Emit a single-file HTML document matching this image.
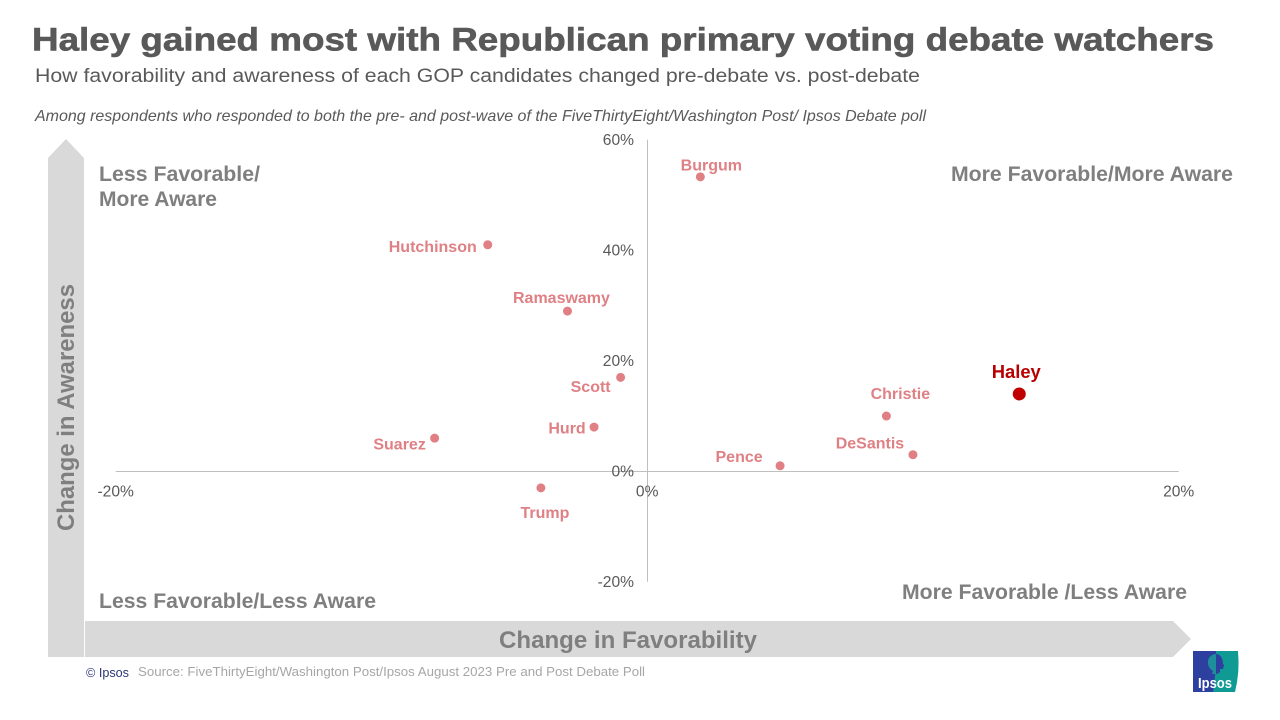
<!DOCTYPE html>
<html lang="en">
<head>
<meta charset="utf-8">
<title>Haley gained most with Republican primary voting debate watchers</title>
<style>
html,body{margin:0;padding:0;background:#fff;width:1280px;height:720px;overflow:hidden}
svg{display:block;font-family:"Liberation Sans",Arial,sans-serif}
.tick{font-size:15.6px;fill:#595959}
.quad{font-size:20.8px;font-weight:bold;fill:#7f7f7f}
.axt{font-size:24px;font-weight:bold;fill:#7f7f7f}
.cand{font-size:16px;font-weight:bold;fill:#df8084}
</style>
</head>
<body>
<svg id="chart" width="1280" height="720" viewBox="0 0 1280 720" xmlns="http://www.w3.org/2000/svg">
  <text x="32" y="50.5" font-size="32.5px" font-weight="bold" fill="#595959" stroke="#595959" stroke-width="0.6" textLength="1182" lengthAdjust="spacingAndGlyphs">Haley gained most with Republican primary voting debate watchers</text>
  <text x="35" y="82" font-size="19.6px" fill="#595959" textLength="885" lengthAdjust="spacingAndGlyphs">How favorability and awareness of each GOP candidates changed pre-debate vs. post-debate</text>
  <text x="35" y="121" font-size="16px" font-style="italic" fill="#595959" textLength="891" lengthAdjust="spacingAndGlyphs">Among respondents who responded to both the pre- and post-wave of the FiveThirtyEight/Washington Post/ Ipsos Debate poll</text>

  <polygon points="48,657 48,158 66,139 84,158 84,657" fill="#d9d9d9"/>
  <polygon points="85,621 1173,621 1191,639 1173,657 85,657" fill="#d9d9d9"/>
  <text class="axt" transform="translate(74,531) rotate(-90)" textLength="247" lengthAdjust="spacingAndGlyphs">Change in Awareness</text>
  <text class="axt" x="499" y="648" textLength="258" lengthAdjust="spacingAndGlyphs">Change in Favorability</text>

  <text class="quad"><tspan x="99" y="181" textLength="161" lengthAdjust="spacingAndGlyphs">Less Favorable/</tspan><tspan x="99" y="206" textLength="118" lengthAdjust="spacingAndGlyphs">More Aware</tspan></text>
  <text class="quad" x="951" y="181" textLength="282" lengthAdjust="spacingAndGlyphs">More Favorable/More Aware</text>
  <text class="quad" x="99" y="608" textLength="277" lengthAdjust="spacingAndGlyphs">Less Favorable/Less Aware</text>
  <text class="quad" x="902" y="599" textLength="285" lengthAdjust="spacingAndGlyphs">More Favorable /Less Aware</text>

  <g id="axes"></g>
  <g id="marks"></g>

  <text x="86" y="677" font-size="13px" fill="#2b3674" textLength="43" lengthAdjust="spacingAndGlyphs">© Ipsos</text>
  <text x="138" y="676" font-size="13px" fill="#a6a6a6" textLength="507" lengthAdjust="spacingAndGlyphs">Source: FiveThirtyEight/Washington Post/Ipsos August 2023 Pre and Post Debate Poll</text>

  <g>
    <path d="M1193 651H1238Q1240 672 1235 692H1193Z" fill="#0f9b94"/>
    <path d="M1193 651H1216V668L1213 692H1193Z" fill="#2d3f9f"/>
    <path d="M1216 654a8 8 0 0 0-8 9c0 4 3 7 5 8l-1 3h5l3-2v-3l3 0 1-4-1-1c0-6-3-10-7-10z" fill="#1d8f9a"/>
    <path d="M1216 654c4 0 7 4 7 10l1 1-1 4-3 0v3l-3 2h-1z" fill="#2d3f9f"/>
    <text x="1198" y="688" font-size="15px" font-weight="bold" fill="#fff" textLength="34" lengthAdjust="spacingAndGlyphs">Ipsos</text>
  </g>
</svg>
<script>
var candidates = ["Burgum","Hutchinson","Ramaswamy","Scott","Hurd","Suarez","Trump","Pence","DeSantis","Christie","Haley"];
var favorabilityChange = [2,-6,-3,-1,-2,-8,-4,5,10,9,14];
var awarenessChange = [53.3,41,29,17,8,6,-3,1,3,10,14];
var xTicks = [-20,0,20];
var yTicks = [60,40,20,0,-20];
var highlighted = "Haley";

var NS = "http://www.w3.org/2000/svg";
function xScale(v){ return 647.2 + v * (1179 - 647.5) / 20; }
function yScale(v){ return 471.3 - v * (471.5 - 140) / 60; }

function labelPlacement(name){
  switch(name){
    case "Burgum": return {dx:11,dy:-6.5,anchor:"middle"};
    case "Hutchinson": return {dx:-11,dy:7,anchor:"end"};
    case "Ramaswamy": return {dx:-6,dy:-8,anchor:"middle"};
    case "Scott": return {dx:-30,dy:14.5,anchor:"middle"};
    case "Hurd": return {dx:-27,dy:6.5,anchor:"middle"};
    case "Suarez": return {dx:-35,dy:11.5,anchor:"middle"};
    case "Trump": return {dx:4,dy:30,anchor:"middle"};
    case "Pence": return {dx:-41,dy:-4,anchor:"middle"};
    case "DeSantis": return {dx:-43,dy:-6,anchor:"middle"};
    case "Christie": return {dx:14,dy:-17,anchor:"middle"};
    case "Haley": return {dx:-3,dy:-16,anchor:"middle"};
  }
  return {dx:0,dy:-8,anchor:"middle"};
}

var axes = document.getElementById("axes");
var marks = document.getElementById("marks");

var xLine = document.createElementNS(NS,"line");


xLine.setAttribute("x1", xScale(xTicks[0]));
xLine.setAttribute("x2", xScale(xTicks[xTicks.length-1]));
xLine.setAttribute("y1", 471.5);
xLine.setAttribute("y2", 471.5);
xLine.setAttribute("stroke", "#bfbfbf");
xLine.setAttribute("stroke-width", "1");
axes.appendChild(xLine);

var yLine = document.createElementNS(NS,"line");


yLine.setAttribute("x1", 647.5);
yLine.setAttribute("x2", 647.5);
yLine.setAttribute("y1", yScale(yTicks[0]));
yLine.setAttribute("y2", yScale(yTicks[yTicks.length-1]));
yLine.setAttribute("stroke", "#bfbfbf");
yLine.setAttribute("stroke-width", "1");
axes.appendChild(yLine);

xTicks.forEach(function(t){
  var el = document.createElementNS(NS,"text");
  
  
  el.setAttribute("class", "tick");
  el.setAttribute("x", xScale(t));
  el.setAttribute("y", yScale(0) + 25);
  el.setAttribute("text-anchor", "middle");
  el.textContent = t + "%";
  axes.appendChild(el);
});

yTicks.forEach(function(t){
  var el = document.createElementNS(NS,"text");
  
  
  el.setAttribute("class", "tick");
  el.setAttribute("x", 634);
  el.setAttribute("y", yScale(t) + 5);
  el.setAttribute("text-anchor", "end");
  el.textContent = t + "%";
  axes.appendChild(el);
});

candidates.forEach(function(name,i){
  var cx = xScale(favorabilityChange[i]);
  var cy = yScale(awarenessChange[i]);
  var hot = name === highlighted;

  var dot = document.createElementNS(NS,"circle");
  
  
  dot.setAttribute("cx", cx);
  dot.setAttribute("cy", cy);
  dot.setAttribute("r", hot ? 6.5 : 4.5);
  dot.setAttribute("fill", hot ? "#c00000" : "#e07f84");
  marks.appendChild(dot);

  var p = labelPlacement(name);
  var label = document.createElementNS(NS,"text");
  
  
  label.setAttribute("class", "cand");
  label.setAttribute("x", cx + p.dx);
  label.setAttribute("y", cy + p.dy);
  label.setAttribute("text-anchor", p.anchor);
  if(hot){
    label.setAttribute("style", "font-size:18.4px;fill:#b80000");
  }
  label.textContent = name;
  marks.appendChild(label);
});
</script>
</body>
</html>
